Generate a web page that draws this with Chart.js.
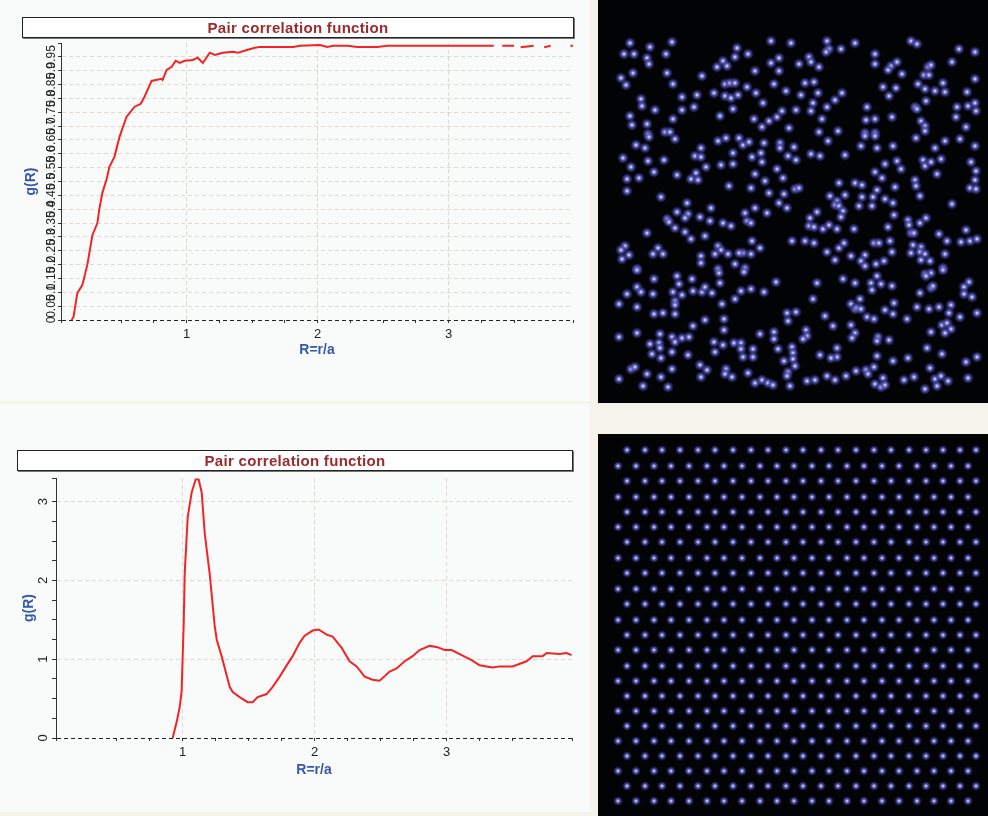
<!DOCTYPE html>
<html>
<head>
<meta charset="utf-8">
<script src="https://cdn.jsdelivr.net/npm/chart.js@4.4.1/dist/chart.umd.min.js"></script>
<style>
  body { margin: 0; width: 988px; height: 816px; background: #f6f3ea; position: relative; overflow: hidden; font-family: "Liberation Sans", Arial, sans-serif; }
  .panel { position: absolute; background: #f9fbfb; }
  .box { position: absolute; border: 1px solid #222; box-shadow: 1px 1px 0 #777; background: #fff; text-align: center;
         font: bold 15px "Liberation Sans", Arial, sans-serif; color: #9a2b2f; letter-spacing: 0.3px; line-height: 19px; }
  canvas { position: absolute; }
</style>
</head>
<body>
<div class="panel" style="left:0;top:0;width:590px;height:401px"></div>
<div class="panel" style="left:0;top:404px;width:590px;height:408px"></div>
<canvas id="topChart" width="585" height="400" style="left:0;top:0"></canvas>
<canvas id="lowChart" width="585" height="411" style="left:0;top:405px"></canvas>
<div class="box" style="left:22px;top:17px;width:550px;height:19px">Pair correlation function</div>
<div class="box" style="left:17px;top:450px;width:554px;height:19px">Pair correlation function</div>
<canvas id="topDots" width="390" height="403" style="left:598px;top:0;background:#020305"></canvas>
<canvas id="lowDots" width="390" height="382" style="left:598px;top:434px;background:#020305"></canvas>
<script>
// pair correlation, disordered sample (null = gap in the curve)
const topR = [0.12, 0.135, 0.165, 0.203, 0.241, 0.28, 0.318, 0.333, 0.356, 0.387, 0.41, 0.448, 0.487, 0.54, 0.602, 0.648,
  0.678, 0.732, 0.808, 0.816, 0.847, 0.885, 0.916, 0.946, 0.985, 1.046, 1.084, 1.123, 1.176, 1.215, 1.276, 1.352, 1.391,
  1.46, 1.521, 1.559, 1.69, 1.812, 1.866, 2.019, 2.073, 2.119, 2.226, 2.303, 2.456, 2.533, 2.632, 2.992, 3.245, 3.345,
  3.37, 3.41, 3.5, 3.52, 3.55, 3.65, 3.69, 3.73, 3.78, 3.85, 3.93, 3.95];
const topG = [0, 0.01, 0.098, 0.126, 0.199, 0.307, 0.35, 0.401, 0.459, 0.506, 0.553, 0.589, 0.661, 0.733, 0.77, 0.78,
  0.806, 0.863, 0.871, 0.867, 0.903, 0.914, 0.936, 0.928, 0.936, 0.939, 0.947, 0.928, 0.965, 0.957, 0.965, 0.968, 0.965,
  0.975, 0.983, 0.986, 0.986, 0.986, 0.99, 0.993, 0.986, 0.99, 0.99, 0.986, 0.986, 0.99, 0.99, 0.99, 0.99, 0.99,
  null, 0.99, 0.99, null, 0.985, 0.99, null, 0.985, 0.99, null, 0.99, 0.99];

// pair correlation, ordered sample
const lowR = [0.924, 0.955, 0.977, 0.992, 1.0, 1.008, 1.015, 1.038, 1.068, 1.098, 1.121, 1.144, 1.167, 1.205, 1.242, 1.258,
  1.295, 1.356, 1.379, 1.432, 1.492, 1.53, 1.568, 1.636, 1.682, 1.735, 1.788, 1.833, 1.886, 1.924, 1.985, 2.03, 2.091,
  2.136, 2.205, 2.265, 2.318, 2.379, 2.439, 2.492, 2.568, 2.621, 2.682, 2.742, 2.795, 2.871, 2.924, 2.985, 3.038, 3.114,
  3.189, 3.25, 3.348, 3.402, 3.5, 3.606, 3.652, 3.727, 3.758, 3.856, 3.909, 3.947];
const lowG = [0, 0.208, 0.39, 0.597, 1.039, 1.468, 2.078, 2.805, 3.117, 3.28, 3.28, 3.117, 2.597, 2.078, 1.429, 1.247,
  1.039, 0.649, 0.584, 0.519, 0.455, 0.455, 0.519, 0.558, 0.649, 0.779, 0.922, 1.039, 1.208, 1.299, 1.364, 1.377, 1.312,
  1.286, 1.143, 0.974, 0.909, 0.779, 0.74, 0.727, 0.844, 0.883, 0.974, 1.039, 1.117, 1.169, 1.156, 1.117, 1.117, 1.052,
  0.987, 0.922, 0.896, 0.909, 0.909, 0.974, 1.039, 1.039, 1.078, 1.065, 1.078, 1.052];

const topYTicks = [0, 1, 0.05];   // min, max, step
const lowYTicks = [0, 3.3, 0.25];
const xRange = [0.04, 3.95];

// particle positions (pixels inside each image)
const looseDots = [
  [32,43],[52,47],[74,42],[26,54],[36,54],[49,58],[51,64],[68,54],[23,78],[35,73],[28,85],[69,73],[75,84],[43,99],[44,106],
  [57,110],[84,97],[99,95],[96,107],[84,110],[32,116],[34,125],[49,124],[75,119],[67,132],[72,132],[50,134],[104,76],[116,93],
  [119,67],[125,61],[129,66],[139,48],[137,57],[150,54],[127,84],[132,83],[137,83],[127,96],[133,98],[140,95],[149,87],[135,109],
  [122,116],[157,71],[158,93],[165,103],[156,119],[164,127],[171,121],[173,41],[181,58],[173,63],[181,71],[176,84],[188,91],
  [179,117],[184,111],[191,128],[193,43],[201,64],[198,110],[203,95],[207,83],[216,82],[211,57],[213,62],[221,67],[220,93],
  [215,103],[213,111],[229,41],[231,49],[228,52],[243,49],[244,93],[237,100],[229,107],[224,119],[221,132],[240,131],[257,43],
  [269,107],[268,120],[277,119],[267,133],[277,133],[277,54],[277,64],[293,66],[290,70],[299,62],[304,74],[285,87],[298,88],
  [291,96],[294,117],[313,41],[319,44],[330,67],[333,65],[326,75],[331,75],[320,84],[327,89],[337,91],[345,83],[347,92],
  [328,101],[317,107],[319,109],[323,121],[327,126],[327,131],[361,49],[354,62],[377,52],[377,79],[369,92],[359,107],[370,106],
  [377,103],[378,111],[358,117],[368,127],
  [51,137],[77,139],[38,145],[47,148],[25,158],[50,161],[66,160],[33,167],[56,172],[29,179],[41,178],[29,191],[63,197],[79,175],
  [103,148],[97,156],[103,157],[108,167],[98,173],[93,179],[100,180],[120,141],[128,138],[141,138],[145,145],[151,142],[135,153],
  [123,165],[135,164],[131,186],[154,157],[163,153],[164,162],[157,174],[167,181],[153,188],[166,143],[182,143],[182,148],
  [196,147],[190,156],[198,160],[179,169],[185,178],[197,189],[201,188],[171,193],[186,194],[181,203],[189,208],[213,154],
  [222,156],[230,141],[247,155],[267,136],[277,136],[263,146],[279,148],[295,146],[318,138],[347,141],[362,139],[377,146],
  [337,148],[343,159],[325,160],[327,166],[333,162],[299,161],[303,169],[287,164],[277,172],[284,178],[373,162],[378,171],
  [377,180],[372,188],[378,189],[339,174],[317,180],[318,186],[322,196],[297,187],[354,204],[241,183],[257,183],[264,185],
  [279,190],[275,197],[287,199],[295,203],[264,197],[247,195],[232,196],[239,201],[237,205],[241,206],[245,211],[243,217],
  [261,206],[274,206],[219,212],[212,218],[296,215],[89,203],[79,212],[90,214],[87,218],[102,217],[113,208],[112,221],[69,219],
  [71,222],[77,228],[49,233],[87,232],[93,239],[107,236],[125,223],[133,226],[147,213],[149,221],[153,223],[157,208],[169,213],
  [154,241],[162,248],[145,253],[153,254],[141,253],[120,246],[123,250],[117,254],[130,254],[103,256],[103,263],[137,264],
  [147,268],[120,269],[27,246],[23,250],[31,255],[24,259],[60,248],[55,254],[65,254],[39,269],[194,241],[207,241],[216,243],
  [211,226],[216,227],[225,229],[231,225],[239,229],[256,229],[229,252],[241,248],[246,243],[237,260],[253,256],[267,255],
  [263,261],[267,266],[278,264],[286,261],[276,243],[281,243],[292,241],[294,252],[290,227],[310,220],[311,225],[322,223],
  [328,218],[313,233],[316,233],[315,245],[323,247],[313,253],[322,252],[327,254],[323,260],[332,261],[347,254],[345,268],
  [341,234],[349,241],[363,242],[372,241],[379,239],[368,230],
  [39,270],[79,276],[56,279],[94,279],[121,273],[146,272],[81,284],[122,283],[39,287],[43,292],[29,294],[55,294],[75,292],
  [84,295],[95,291],[104,292],[107,287],[114,293],[21,304],[39,307],[77,301],[77,305],[77,314],[56,314],[65,313],[137,299],
  [143,291],[153,289],[166,292],[124,304],[178,282],[107,320],[126,319],[95,326],[126,330],[21,337],[39,333],[62,334],[74,337],
  [77,342],[84,338],[91,337],[52,344],[61,343],[62,348],[74,352],[54,354],[63,358],[90,355],[116,342],[117,352],[125,345],
  [136,343],[143,343],[143,349],[145,357],[155,349],[155,357],[162,334],[176,332],[176,339],[180,349],[33,369],[37,367],
  [49,374],[74,369],[63,377],[102,365],[109,370],[103,377],[128,369],[127,374],[134,377],[150,373],[21,379],[45,386],[70,387],
  [157,383],[164,380],[170,383],[175,385],[192,386],[189,313],[198,312],[190,321],[208,330],[209,336],[205,339],[194,347],
  [195,353],[195,359],[186,361],[197,366],[190,372],[189,376],[209,381],[217,380],[219,283],[215,299],[227,316],[235,326],
  [245,279],[257,283],[273,283],[274,290],[283,284],[279,276],[294,286],[253,304],[262,299],[257,309],[259,308],[263,309],
  [269,317],[276,319],[287,310],[296,303],[295,314],[253,325],[257,333],[254,338],[280,337],[279,341],[291,340],[239,348],
  [239,357],[233,358],[222,355],[279,356],[295,361],[310,358],[229,376],[237,380],[248,376],[258,371],[268,370],[270,374],
  [276,367],[285,378],[277,384],[283,387],[287,385],[306,380],[316,377],[309,319],[319,307],[331,309],[341,307],[322,293],
  [333,288],[335,286],[327,274],[333,273],[328,276],[345,270],[371,282],[366,287],[366,294],[374,297],[353,305],[351,313],
  [362,317],[379,313],[344,325],[349,323],[353,329],[347,333],[333,332],[329,348],[344,354],[368,362],[379,357],[332,368],
  [337,379],[343,376],[350,381],[339,386],[327,389],[370,378]
];
const latticeRowY = [16, 32, 47, 63, 78, 93, 108, 124, 139, 155, 170, 186, 201, 216, 232, 247, 262, 277, 292, 307, 322, 337, 352, 367];
const latticeColEven = [29, 47, 64, 82, 100, 117, 135, 153, 170, 188, 205, 223, 240, 258, 276, 293, 311, 328, 345, 362, 378];
const latticeColOdd = [20, 38, 56, 73, 91, 109, 126, 144, 162, 179, 196, 214, 231, 249, 266, 284, 301, 319, 336, 353, 370];

const latticeDots = [];
latticeRowY.forEach((y, i) => {
  (i % 2 === 0 ? latticeColEven : latticeColOdd).forEach(x => latticeDots.push([x, y]));
});

const FONT = '"Liberation Sans", Arial, sans-serif';
const RED = '#f22424';
const GRID = '#e2d8cf';
const BLUE = '#3558aa';

function fmt(v) { return String(+v.toFixed(2)); }

function pairChart(id, R, G, yTicks, opts) {
  return new Chart(document.getElementById(id), {
    type: 'line',
    data: {
      datasets: [{
        data: R.map((r, i) => ({ x: r, y: G[i] })),
        borderColor: RED,
        borderWidth: 2,
        pointRadius: 0,
        tension: 0,
        spanGaps: false
      }]
    },
    options: {
      responsive: false,
      animation: false,
      layout: { padding: opts.padding },
      plugins: { legend: { display: false }, tooltip: { enabled: false } },
      scales: {
        x: {
          type: 'linear',
          min: xRange[0], max: xRange[1],
          afterFit: s => { s.height = opts.xHeight; },
          border: { display: false, dash: [4, 3] },
          grid: {
            color: c => (Number.isInteger(c.tick.value) ? GRID : 'transparent'),
            tickColor: '#333', tickLength: 3, tickWidth: 1
          },
          ticks: {
            stepSize: 0.25, padding: 4, color: '#222', maxRotation: 0,
            font: { family: FONT, size: 13 },
            callback: v => (Number.isInteger(v) && v > 0 ? String(v) : '')
          },
          title: { display: true, text: 'R=r/a', color: BLUE, font: { family: FONT, size: 14, weight: 'bold' },
                   padding: { top: 0, bottom: opts.xTitlePad } }
        },
        y: {
          min: yTicks[0], max: yTicks[1],
          afterFit: s => { s.width = opts.yWidth; },
          border: { display: true, color: '#333', width: 1, dash: [4, 3] },
          grid: {
            color: c => {
              const v = c.tick.value;
              if (Math.abs(v) < 1e-9) return '#222';
              if (v >= yTicks[1] - 1e-9) return 'transparent';
              return opts.gridAll || Number.isInteger(+v.toFixed(6)) ? GRID : 'transparent';
            },
            tickColor: '#333', tickLength: opts.yTickLen, tickWidth: 1
          },
          ticks: {
            stepSize: yTicks[2], padding: opts.yTickPad, color: '#222', minRotation: 90, maxRotation: 90,
            crossAlign: 'center', autoSkip: false,
            font: { family: FONT, size: opts.yFont },
            callback: opts.yLabel
          },
          title: { display: true, text: 'g(R)', color: BLUE, font: { family: FONT, size: 14, weight: 'bold' },
                   padding: { top: opts.yTitlePad, bottom: 0 } }
        }
      }
    }
  });
}

pairChart('topChart', topR, topG, topYTicks, {
  padding: { top: 43, right: 12, left: 0, bottom: 0 },
  xHeight: 80, xTitlePad: 41, yWidth: 61, yTitlePad: 23, yTickLen: 3, yTickPad: -5, yFont: 12, gridAll: true,
  yLabel: v => (v > 0.99 ? '' : fmt(v))
});

pairChart('lowChart', lowR, lowG, lowYTicks, {
  padding: { top: 73, right: 13, left: 0, bottom: 0 },
  xHeight: 78, xTitlePad: 37, yWidth: 56, yTitlePad: 21, yTickLen: 4, yTickPad: 5, yFont: 13, gridAll: false,
  yLabel: v => (Number.isInteger(+v.toFixed(6)) ? String(Math.round(v)) : '')
});

// glowing particle sprite
function sprite(size, core) {
  const c = document.createElement('canvas');
  c.width = c.height = size;
  const g = c.getContext('2d');
  const r = size / 2;
  const grad = g.createRadialGradient(r, r, 0, r, r, r);
  grad.addColorStop(0, 'rgba(255,255,255,1)');
  grad.addColorStop(core, 'rgba(190,190,245,1)');
  grad.addColorStop(0.4, 'rgba(95,95,190,0.9)');
  grad.addColorStop(0.72, 'rgba(62,62,150,0.5)');
  grad.addColorStop(1, 'rgba(30,30,90,0)');
  g.fillStyle = grad;
  g.fillRect(0, 0, size, size);
  return c;
}

function dotChart(id, pts, w, h, size, core) {
  return new Chart(document.getElementById(id), {
    type: 'scatter',
    data: { datasets: [{ data: pts.map(p => ({ x: p[0], y: p[1] })), pointStyle: sprite(size, core), pointRadius: size / 2 }] },
    options: {
      responsive: false,
      animation: false,
      layout: { padding: 0, autoPadding: false },
      plugins: { legend: { display: false }, tooltip: { enabled: false } },
      scales: {
        x: { display: false, min: 0, max: w },
        y: { display: false, min: 0, max: h, reverse: true }
      }
    }
  });
}

dotChart('topDots', looseDots, 390, 403, 12, 0.12);
dotChart('lowDots', latticeDots, 390, 382, 10, 0.12);
</script>
</body>
</html>
